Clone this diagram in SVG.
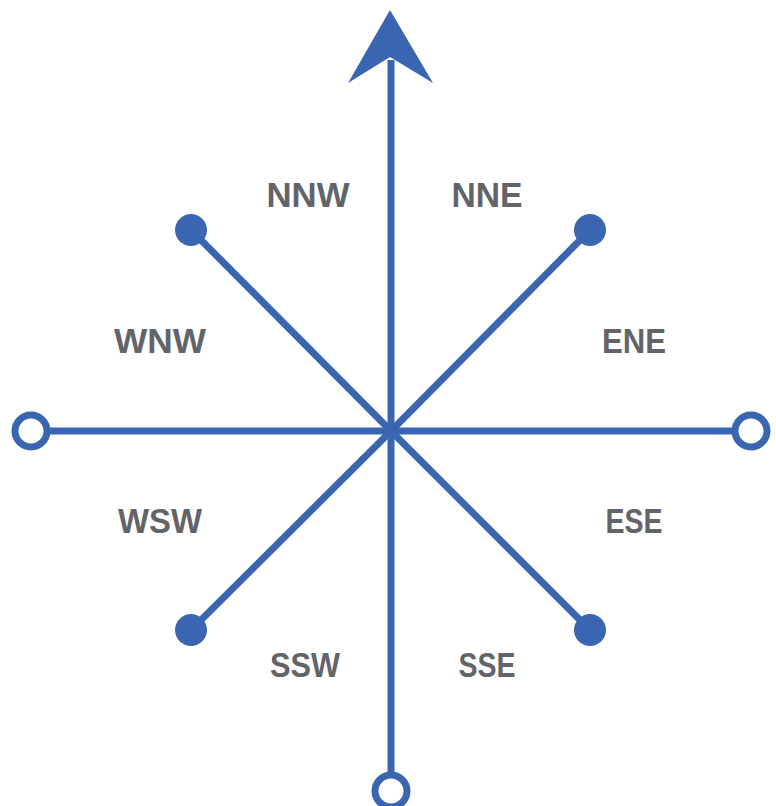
<svg xmlns="http://www.w3.org/2000/svg" width="776" height="806" viewBox="0 0 776 806">
<style>
.ln{stroke:#3A66B1;stroke-width:7;fill:none}
.dot{fill:#3A66B1}
.ring{fill:#fff;stroke:#3A66B1;stroke-width:7}
.lbl{font-family:"Liberation Sans",Arial,sans-serif;font-weight:bold;font-size:35px;fill:#626469;text-anchor:middle}
</style>
<rect width="776" height="806" fill="#fff"/>
<g id="connectors">
<line class="ln" x1="391" y1="431" x2="391" y2="60"/>
<line class="ln" x1="391" y1="431" x2="391" y2="775"/>
<line class="ln" x1="391" y1="431" x2="46" y2="431"/>
<line class="ln" x1="391" y1="431" x2="736" y2="431"/>
<line class="ln" x1="391" y1="431" x2="191" y2="230"/>
<line class="ln" x1="391" y1="431" x2="590" y2="230"/>
<line class="ln" x1="391" y1="431" x2="191" y2="630"/>
<line class="ln" x1="391" y1="431" x2="590" y2="630"/>
<polygon class="dot" points="390,10 433,83 390,57 348,83"/>
</g>
<g id="end-w"><circle class="ring" cx="31" cy="431" r="16"/></g>
<g id="end-e"><circle class="ring" cx="751" cy="431" r="16"/></g>
<g id="end-s"><circle class="ring" cx="391" cy="791" r="16"/></g>
<g id="end-nw"><circle class="dot" cx="191" cy="230" r="16"/></g>
<g id="end-ne"><circle class="dot" cx="590" cy="230" r="16"/></g>
<g id="end-sw"><circle class="dot" cx="191" cy="630" r="16"/></g>
<g id="end-se"><circle class="dot" cx="590" cy="630" r="16"/></g>
<g id="label-nnw"><text class="lbl" x="308" y="207" textLength="83" lengthAdjust="spacingAndGlyphs">NNW</text></g>
<g id="label-nne"><text class="lbl" x="487" y="207" textLength="71" lengthAdjust="spacingAndGlyphs">NNE</text></g>
<g id="label-wnw"><text class="lbl" x="160" y="353" textLength="92" lengthAdjust="spacingAndGlyphs">WNW</text></g>
<g id="label-ene"><text class="lbl" x="634" y="353" textLength="64" lengthAdjust="spacingAndGlyphs">ENE</text></g>
<g id="label-wsw"><text class="lbl" x="160" y="533" textLength="84" lengthAdjust="spacingAndGlyphs">WSW</text></g>
<g id="label-ese"><text class="lbl" x="634" y="533" textLength="57" lengthAdjust="spacingAndGlyphs">ESE</text></g>
<g id="label-ssw"><text class="lbl" x="305" y="677" textLength="70" lengthAdjust="spacingAndGlyphs">SSW</text></g>
<g id="label-sse"><text class="lbl" x="487" y="677" textLength="57" lengthAdjust="spacingAndGlyphs">SSE</text></g>
</svg>
